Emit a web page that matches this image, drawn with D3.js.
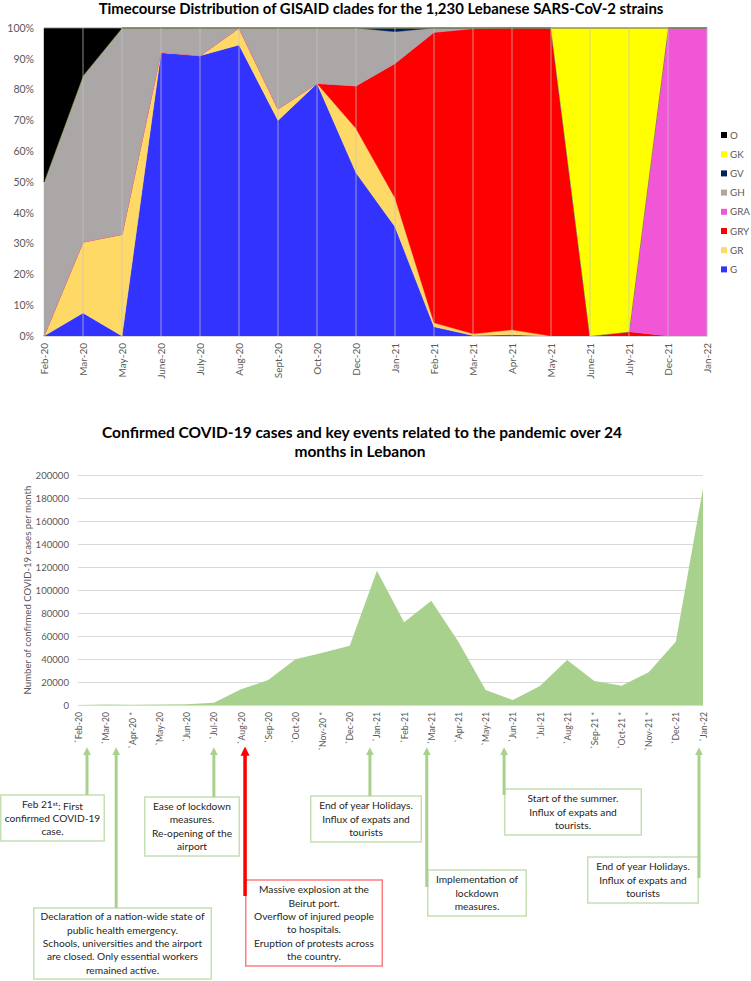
<!DOCTYPE html>
<html>
<head>
<meta charset="utf-8">
<script src="https://cdn.jsdelivr.net/npm/d3@7"></script>
<style>
  body { margin: 0; background: #fff; }
  svg { display: block; font-family: Lato, "Open Sans", sans-serif; }
</style>
</head>
<body>
<svg id="chart" width="751" height="981"></svg>
<script>
// ---- clade timecourse (percent of strains per month) ----
var cladeMonths = ["Feb-20","Mar-20","May-20","June-20","July-20","Aug-20","Sept-20","Oct-20","Dec-20",
  "Jan-21","Feb-21","Mar-21","Apr-21","May-21","June-21","July-21","Dec-21","Jan-22"];
var cladeKeys = ["G","GR","GRY","GRA","GH","GV","GK","O"];
var cladeG   = [0, 7.5, 0, 92, 91, 94.5, 70, 82, 53, 35.5, 3, 0.2, 0.4, 0, 0, 0, 0, 0];
var cladeGR  = [0, 23, 33, 0.3, 0, 5.5, 3.7, 0, 14.4, 9.3, 1.3, 0.5, 1.6, 0, 0, 0, 0, 0];
var cladeGRY = [0, 0, 0, 0, 0, 0, 0, 0, 13.8, 43.7, 94.3, 99.1, 98, 100, 0, 1.4, 0, 0];
var cladeGRA = [0, 0, 0, 0, 0, 0, 0, 0, 0, 0, 0, 0, 0, 0, 0, 0, 100, 100];
var cladeGH  = [50, 54, 67, 7.7, 9, 0, 26.3, 18, 18.8, 10.3, 1.4, 0.2, 0, 0, 0, 0, 0, 0];
var cladeGV  = [0, 0, 0, 0, 0, 0, 0, 0, 0, 1.2, 0, 0, 0, 0, 0, 0, 0, 0];
var cladeGK  = [0, 0, 0, 0, 0, 0, 0, 0, 0, 0, 0, 0, 0, 0, 100, 98.6, 0, 0];
var cladeO   = [50, 15.5, 0, 0, 0, 0, 0, 0, 0, 0, 0, 0, 0, 0, 0, 0, 0, 0];
var pctTicks = [0, 10, 20, 30, 40, 50, 60, 70, 80, 90, 100];

// ---- monthly confirmed cases ----
var caseMonths = ["`Feb-20","`Mar-20","`Apr-20 *","`May-20","`Jun-20","`Jul-20","`Aug-20","`Sep-20","`Oct-20",
  "`Nov-20 *","`Dec-20","`Jan-21","`Feb-21","`Mar-21","`Apr-21","`May-21","`Jun-21","`Jul-21","`Aug-21",
  "`Sep-21 *","`Oct-21 *","`Nov-21 *","`Dec-21","`Jan-22"];
var cases = [4, 460, 270, 500, 700, 1900, 13600, 21700, 39700, 45500, 51600, 116800, 71900, 90700,
  55100, 13000, 4300, 16500, 39100, 20900, 16800, 28400, 55100, 188400];
var caseTicks = [0, 20000, 40000, 60000, 80000, 100000, 120000, 140000, 160000, 180000, 200000];

// ---- key events ----
var eventMonths = ["`Feb-20","`Mar-20","`Jul-20","`Aug-20","`Jan-21","`Mar-21","`Jun-21","`Jan-22"];
var eventTexts = [
  ["Feb 21|st|: First", "confirmed COVID-19", "case."],
  ["Declaration of a nation-wide state of", "public health emergency.", "Schools, universities and the airport",
   "are closed. Only essential workers", "remained active."],
  ["Ease of lockdown", "measures.", "Re-opening of the", "airport"],
  ["Massive explosion at the", "Beirut port.", "Overflow of injured people", "to hospitals.",
   "Eruption of protests across", "the country."],
  ["End of year Holidays.", "Influx of expats and", "tourists"],
  ["Implementation of", "lockdown", "measures."],
  ["Start of the summer.", "Influx of expats and", "tourists."],
  ["End of year Holidays.", "Influx of expats and", "tourists"]
];
var eventRed = [false, false, false, true, false, false, false, false];

var colors = {G: "#3333ff", GR: "#ffd966", GRY: "#ff0000", GRA: "#f056d6",
  GH: "#aba7a7", GV: "#002060", GK: "#ffff00", O: "#000000"};

var svg = d3.select("#chart");
var textCol = "#595959";

// =============== top chart ===============
var top1 = 28, bot1 = 336, left1 = 44, right1 = 707;
var series = {G: cladeG, GR: cladeGR, GRY: cladeGRY, GRA: cladeGRA, GH: cladeGH, GV: cladeGV, GK: cladeGK, O: cladeO};
var rows = cladeMonths.map(function(m, i) {
  var r = {month: m};
  cladeKeys.forEach(function(k) { r[k] = series[k][i]; });
  return r;
});

var x1 = d3.scalePoint().domain(cladeMonths).range([left1, right1]);
var y1 = d3.scaleLinear().domain([0, 100]).range([bot1, top1]);

svg.append("text")
  .attr("x", 381).attr("y", 14)
  .attr("text-anchor", "middle")
  .style("font-weight", "bold").style("font-size", "14.9px").style("fill", "#000")
  .text("Timecourse Distribution of GISAID clades for the 1,230 Lebanese SARS-CoV-2 strains");

var stacked = d3.stack().keys(cladeKeys)(rows);
var area1 = d3.area()
  .x(function(d) { return x1(d.data.month); })
  .y0(function(d) { return y1(d[0]); })
  .y1(function(d) { return y1(d[1]); });

svg.append("g").selectAll("path")
  .data(stacked)
  .enter().append("path")
  .attr("d", area1)
  .style("fill", function(d) { return colors[d.key]; })
  .style("stroke", function(d) { return colors[d.key]; })
  .style("stroke-width", 0.4);

// vertical grid lines sit over the areas
svg.append("g").selectAll("line")
  .data(cladeMonths.slice(1))
  .enter().append("line")
  .attr("x1", function(d) { return x1(d); }).attr("x2", function(d) { return x1(d); })
  .attr("y1", top1).attr("y2", bot1)
  .style("stroke", "#c4c4c4").style("stroke-opacity", 0.7).style("stroke-width", 1);

svg.append("line")
  .attr("x1", left1).attr("x2", right1).attr("y1", top1).attr("y2", top1)
  .style("stroke", "#bfbfbf").style("stroke-opacity", 0.6);

var yAxis1 = svg.append("g")
  .attr("transform", "translate(" + left1 + ",0)")
  .call(d3.axisLeft(y1).tickValues(pctTicks).tickSize(0).tickPadding(10)
    .tickFormat(function(d) { return d + "%"; }));
yAxis1.select(".domain").remove();
yAxis1.selectAll("text").style("font-size", "10.5px").style("fill", textCol).style("font-family", "Lato");

var xAxis1 = svg.append("g")
  .attr("transform", "translate(0," + bot1 + ")")
  .call(d3.axisBottom(x1).tickSize(0));
xAxis1.select(".domain").style("stroke", "#d9d9d9");
xAxis1.selectAll("text")
  .attr("transform", "rotate(-90)")
  .attr("x", -7).attr("y", 0).attr("dy", "0.35em")
  .style("text-anchor", "end")
  .style("font-size", "10px").style("fill", textCol).style("font-family", "Lato");

var legendKeys = cladeKeys.slice().reverse();
var lg = svg.append("g").selectAll("g")
  .data(legendKeys)
  .enter().append("g")
  .attr("transform", function(d, i) { return "translate(721," + (135 + i * 19.2) + ")"; });
lg.append("rect").attr("x", 0).attr("y", -3).attr("width", 6).attr("height", 6)
  .style("fill", function(d) { return colors[d]; });
lg.append("text").attr("x", 9).attr("y", 0).attr("dy", "0.36em")
  .style("font-size", "9.8px").style("fill", textCol)
  .text(function(d) { return d; });

// =============== bottom chart ===============
var top2 = 475, bot2 = 705, left2 = 78, right2 = 703;
var x2 = d3.scalePoint().domain(caseMonths).range([left2, right2]);
var y2 = d3.scaleLinear().domain([0, 200000]).range([bot2, top2]);

var t2 = svg.append("text")
  .attr("text-anchor", "middle")
  .style("font-weight", "bold").style("font-size", "15.5px").style("fill", "#000");
t2.append("tspan").attr("x", 362).attr("y", 438)
  .text("Confirmed COVID-19 cases and key events related to the pandemic over 24");
t2.append("tspan").attr("x", 360).attr("y", 457).text("months in Lebanon");

var grid2 = svg.append("g")
  .attr("transform", "translate(" + left2 + ",0)")
  .call(d3.axisLeft(y2).tickValues(caseTicks).tickSize(-(right2 - left2)).tickPadding(9)
    .tickFormat(d3.format("d")));
grid2.select(".domain").remove();
grid2.selectAll(".tick line").style("stroke", "#d9d9d9");
grid2.selectAll("text").style("font-size", "9.6px").style("fill", textCol).style("font-family", "Lato");

var area2 = d3.area()
  .x(function(d, i) { return x2(caseMonths[i]); })
  .y0(bot2)
  .y1(function(d) { return y2(d); });
svg.append("path").datum(cases).attr("d", area2).style("fill", "#a9d18e");

var xAxis2 = svg.append("g")
  .attr("transform", "translate(0," + bot2 + ")")
  .call(d3.axisBottom(x2).tickSize(0));
xAxis2.select(".domain").style("stroke", "#d9d9d9");
xAxis2.selectAll("text")
  .attr("transform", "rotate(-90)")
  .attr("x", -7).attr("y", 0).attr("dy", "0.35em")
  .style("text-anchor", "end")
  .style("font-size", "8.7px").style("fill", textCol).style("font-family", "Lato");

svg.append("text")
  .attr("transform", "translate(31,590) rotate(-90)")
  .attr("text-anchor", "middle")
  .style("font-size", "9.6px").style("fill", textCol)
  .text("Number of confirmed COVID-19 cases per month");

// ---- event annotations: arrow offset from tick, box placement ----
var boxLayout = [
  {dx: 9,    left: 0,   top: 795, w: 105, h: 46, end: 795},
  {dx: 11,   left: 33,  top: 908, w: 179, h: 71, end: 908},
  {dx: 0,    left: 144, top: 797, w: 96,  h: 59, end: 797},
  {dx: 4,    left: 245, top: 880, w: 138, h: 86, end: 896},
  {dx: -7,   left: 310, top: 796, w: 112, h: 46, end: 796},
  {dx: -4.5, left: 427, top: 870, w: 100, h: 46, end: 887},
  {dx: -8.7, left: 504, top: 789, w: 138, h: 46, end: 795},
  {dx: -4,   left: 587, top: 857, w: 112, h: 46, end: 878}
];
var arrowTip = 748, lineH = 13.3;

var defs = svg.append("defs");
[["headG", "#a9d18e"], ["headR", "#ff0000"]].forEach(function(m) {
  defs.append("marker").attr("id", m[0])
    .attr("viewBox", "0 0 10 10").attr("refX", 4).attr("refY", 5)
    .attr("markerWidth", 2.6).attr("markerHeight", 2.6).attr("orient", "auto")
    .attr("markerUnits", "strokeWidth")
    .append("path").attr("d", "M0,0 L10,5 L0,10 Z");
});
defs.select("#headG path").style("fill", "#a9d18e");
defs.select("#headR path").style("fill", "#ff0000");

var ev = svg.append("g").selectAll("g")
  .data(eventMonths)
  .enter().append("g");

ev.append("rect")
  .attr("x", function(d, i) { return boxLayout[i].left + 0.75; })
  .attr("y", function(d, i) { return boxLayout[i].top; })
  .attr("width", function(d, i) { return boxLayout[i].w - 1.5; })
  .attr("height", function(d, i) { return boxLayout[i].h; })
  .style("fill", "#fff")
  .style("stroke", function(d, i) { return eventRed[i] ? "#ff7c80" : "#c5e0b4"; })
  .style("stroke-width", 1.5);

ev.each(function(d, i) {
  var b = boxLayout[i];
  var lines = eventTexts[i];
  var cy = b.top + b.h / 2 - (lines.length - 1) * lineH / 2;
  var g = d3.select(this);
  lines.forEach(function(line, j) {
    var t = g.append("text")
      .attr("x", b.left + b.w / 2).attr("y", cy + j * lineH).attr("dy", "0.35em")
      .attr("text-anchor", "middle")
      .style("font-size", "10.2px").style("fill", "#262626");
    var parts = line.split("|");
    t.append("tspan").text(parts[0]);
    if (parts.length > 1) {
      t.append("tspan").attr("dy", "-0.4em").style("font-size", "6.5px").text(parts[1]);
      t.append("tspan").attr("dy", "0.4em").text(parts[2]);
    }
  });
});

ev.append("line")
  .attr("x1", function(d, i) { return x2(d) + boxLayout[i].dx; })
  .attr("x2", function(d, i) { return x2(d) + boxLayout[i].dx; })
  .attr("y1", function(d, i) { return boxLayout[i].end; })
  .attr("y2", arrowTip + 4)
  .style("stroke", function(d, i) { return eventRed[i] ? "#ff0000" : "#a9d18e"; })
  .style("stroke-width", function(d, i) { return eventRed[i] ? 3.5 : 3; })
  .attr("marker-end", function(d, i) { return eventRed[i] ? "url(#headR)" : "url(#headG)"; });
</script>
</body>
</html>
